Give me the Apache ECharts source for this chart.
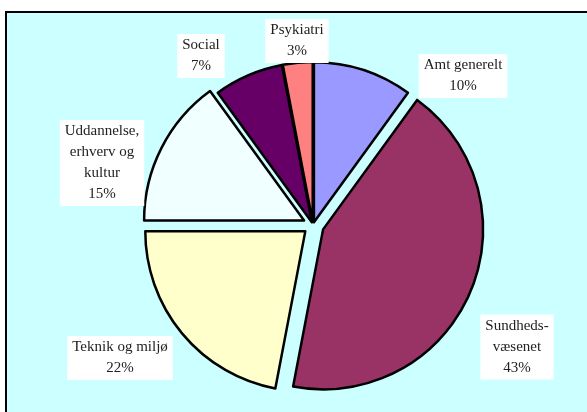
<!DOCTYPE html>
<html>
<head>
<meta charset="utf-8">
<script src="https://cdn.jsdelivr.net/npm/echarts@6/dist/echarts.min.js"></script>
<style>
  html, body { margin: 0; padding: 0; background: #ffffff; }
  #pie-chart { width: 587px; height: 412px; }
</style>
</head>
<body>
<div id="pie-chart"></div>
<script>
// data
var categories = ['Amt generelt', 'Sundheds-\nvæsenet', 'Teknik og miljø', 'Uddannelse,\nerhverv og\nkultur', 'Social', 'Psykiatri']
var shares = [10, 43, 22, 15, 7, 3]

var colors = ['#9999ff', '#993366', '#ffffcc', '#f0ffff', '#660066', '#ff8080']
// how far each slice is pulled out (px)
var explode = [3, 11, 10, 10, 3, 3]
// where each label box sits (centre of box)
var labelPos = [[463, 76], [517, 347], [120, 358], [102, 163], [201, 56], [297, 41]]

var cx = 313, cy = 225, R = 160

var chart = echarts.init(document.getElementById('pie-chart'))
var total = shares.reduce(function (a, b) { return a + b }, 0)

// one pie per slice so each can be pulled out on its own
var series = []
var acc = 0
shares.forEach(function (v, k) {
  var mid = (acc + v / 2) / total * 2 * Math.PI
  acc += v
  var dx = explode[k] * Math.sin(mid)
  var dy = -explode[k] * Math.cos(mid)
  series.push({
    type: 'pie',
    center: [cx + dx, cy + dy],
    radius: R,
    startAngle: 90,
    avoidLabelOverlap: false,
    emphasis: { disabled: true },
    data: categories.map(function (name, i) {
      var own = i === k
      return {
        name: name,
        value: shares[i],
        itemStyle: own
          ? { color: colors[i], borderColor: '#000', borderWidth: 2.5 }
          : { color: 'transparent', borderWidth: 0 },
        label: { show: own }
      }
    }),
    label: {
      position: 'outside',
      formatter: function (p) {
        return p.name + '\n' + Math.round(p.percent) + '%'
      },
      fontFamily: 'Liberation Serif',
      fontSize: 15,
      lineHeight: 21,
      color: '#222',
      align: 'center',
      verticalAlign: 'middle',
      backgroundColor: '#fff',
      padding: [1, 5]
    },
    labelLine: { show: false },
    labelLayout: function (params) {
      var p = labelPos[params.dataIndex]
      return {
        x: p[0],
        y: p[1],
        align: 'center',
        verticalAlign: 'middle',
        hideOverlap: false,
        moveOverlap: false
      }
    }
  })
})

var option = {
  animation: false,
  graphic: [{
    type: 'rect',
    z: 0,
    shape: { x: 6, y: 12, width: 600, height: 420 },
    style: { fill: '#ccffff', stroke: '#000', lineWidth: 2 }
  }],
  series: series
}
chart.setOption(option)
window.addEventListener('resize', () => {
  chart.resize()
})
</script>
</body>
</html>
